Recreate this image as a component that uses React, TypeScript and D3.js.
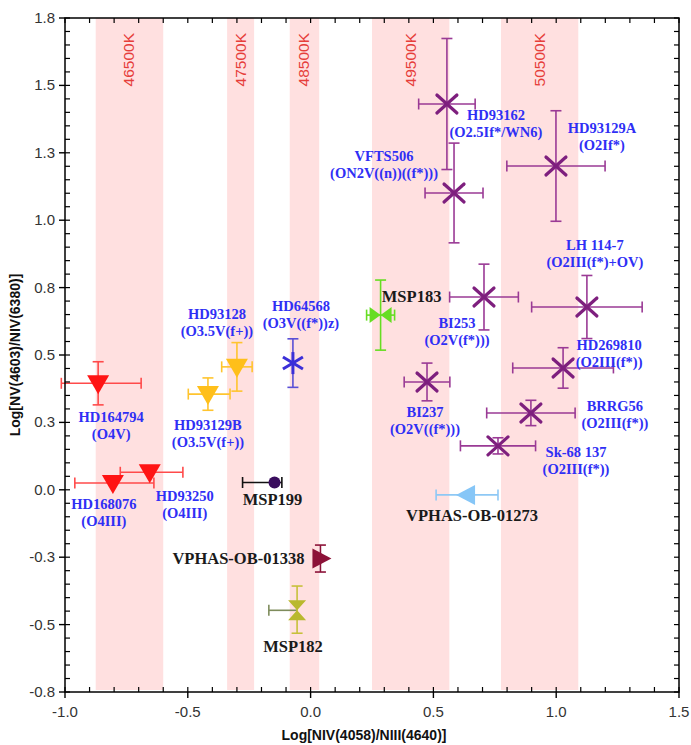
import React from "react";
import * as d3 from "d3";

// chart size and plot frame
const W = 691, H = 745;
const margin = { top: 18, right: 12, bottom: 53, left: 65 };

// axis ticks
const xTickValues = [-1.0, -0.5, 0.0, 0.5, 1.0, 1.5];
const xTickLabels = ["-1.0", "-0.5", "0.0", "0.5", "1.0", "1.5"];
const yTickValues = [-0.75, -0.5, -0.25, 0, 0.25, 0.5, 0.75, 1.0, 1.25, 1.5, 1.75];
const yTickLabels = ["-0.8", "-0.5", "-0.3", "0.0", "0.3", "0.5", "0.8", "1.0", "1.3", "1.5", "1.8"];

// temperature bands
const bandLo = [-0.875, -0.34, -0.085, 0.25, 0.775];
const bandHi = [-0.6, -0.23, 0.035, 0.565, 1.09];
const bandLabels = ["46500K", "47500K", "48500K", "49500K", "50500K"];

// stars
const stars = ["HD164794", "HD168076", "HD93250", "HD93129B", "HD93128", "HD64568", "MSP199",
  "VPHAS-OB-01338", "MSP182", "MSP183", "BI253", "LH 114-7", "HD269810", "BI237", "BRRG56",
  "Sk-68 137", "VPHAS-OB-01273", "VFTS506", "HD93162", "HD93129A"];
const spTypes = ["O4V", "O4III", "O4III", "O3.5V(f+)", "O3.5V(f+)", "O3V((f*))z", "",
  "", "", "", "O2V(f*))", "O2III(f*)+OV", "O2III(f*)", "O2V((f*))", "O2III(f*)",
  "O2III(f*)", "", "ON2V((n))((f*))", "O2.5If*/WN6", "O2If*"];
const xVal = [-0.865, -0.805, -0.655, -0.418, -0.30, -0.072, -0.147, 0.04, -0.055, 0.285, 0.706, 1.125,
  1.028, 0.474, 0.897, 0.763, 0.637, 0.584, 0.555, 0.999];
const yVal = [0.395, 0.025, 0.065, 0.355, 0.456, 0.47, 0.027, -0.255, -0.447, 0.648, 0.715, 0.678,
  0.452, 0.40, 0.285, 0.163, -0.019, 1.101, 1.431, 1.201];
const xErrLo = [0.15, 0.155, 0.12, 0.08, 0.062, 0, 0.13, 0, 0.115, 0.057, 0.14, 0.225,
  0.205, 0.093, 0.18, 0.153, 0.126, 0.118, 0.115, 0.2];
const xErrHi = [0.175, 0.167, 0.135, 0.09, 0.062, 0, 0.03, 0, 0, 0.057, 0.14, 0.225,
  0.205, 0.093, 0.18, 0.153, 0.126, 0.118, 0.115, 0.2];
const yErrLo = [0.08, 0, 0, 0.06, 0.09, 0.09, 0, 0.05, 0.085, 0.13, 0.122, 0.117,
  0.075, 0.07, 0.047, 0.03, 0, 0.185, 0.243, 0.205];
const yErrHi = [0.08, 0, 0, 0.06, 0.09, 0.09, 0, 0.05, 0.09, 0.13, 0.122, 0.117,
  0.075, 0.07, 0.047, 0.03, 0, 0.185, 0.243, 0.205];
const group = ["O4", "O4", "O4", "O3.5", "O3.5", "O3", "MSP199", "VPHAS1338", "MSP182", "MSP183",
  "O2", "O2", "O2", "O2", "O2", "O2", "VPHAS1273", "O2", "O2", "O2"];

// label placement (pixels from the point, centre of first line)
const labelDx = [13, -9, 35, 0, -20, 8, -2, -16, -4, 31, -27, 8, 46, -2, 84, 78, 5, -70, 49, 46];
const labelDy = [34, 21, 24, 31, -53, -57, 17, 0, 37, -18, 26, -62, -23, 30, -7, 6, 21, -37, 11, -38];

const styles: Record<string, any> = {
  O4: { marker: "triDown", fill: "#ff1414", bar: "#ff4a4a", label: "#2f2ff5", size: 14.5 },
  "O3.5": { marker: "triDown", fill: "#ffbf1a", bar: "#ffc42e", label: "#2f2ff5", size: 14.5 },
  O3: { marker: "asterisk", fill: "#3b2fd8", bar: "#5a4fd6", label: "#2f2ff5", size: 14.5 },
  MSP199: { marker: "circle", fill: "#3a0d5e", bar: "#111111", label: "#1a1a1a", size: 16.5 },
  VPHAS1338: { marker: "triRight", fill: "#8c1238", bar: "#8c1238", label: "#1a1a1a", size: 16.5 },
  MSP182: { marker: "hourglass", fill: "#b9b82e", bar: "#c7c03a", barX: "#7e8c5c", label: "#1a1a1a", size: 16.5 },
  MSP183: { marker: "bowtie", fill: "#66dd22", bar: "#66dd22", label: "#1a1a1a", size: 16.5 },
  O2: { marker: "x", fill: "#7e1f7e", bar: "#9a3a95", label: "#2f2ff5", size: 14.5 },
  VPHAS1273: { marker: "triLeft", fill: "#86c6f7", bar: "#8ec8f5", label: "#1a1a1a", size: 16.5 },
};

function markerPath(kind: string): string {
  const p = d3.path();
  if (kind === "triDown") { p.moveTo(-11, -8); p.lineTo(11, -8); p.lineTo(0, 11); p.closePath(); }
  else if (kind === "triRight") { p.moveTo(-8, -10); p.lineTo(11, 0); p.lineTo(-8, 10); p.closePath(); }
  else if (kind === "triLeft") { p.moveTo(8, -10); p.lineTo(-11, 0); p.lineTo(8, 10); p.closePath(); }
  else if (kind === "hourglass") { p.moveTo(-9, -10); p.lineTo(9, -10); p.lineTo(-9, 10); p.lineTo(9, 10); p.closePath(); }
  else if (kind === "bowtie") { p.moveTo(-11, -8); p.lineTo(11, 8); p.lineTo(11, -8); p.lineTo(-11, 8); p.closePath(); }
  return p.toString();
}

function Marker({ kind, fill }: { kind: string; fill: string }) {
  if (kind === "circle") return <circle r={6} fill={fill} />;
  if (kind === "x") {
    return (
      <g stroke={fill} strokeWidth={3.2} strokeLinecap="round">
        <line x1={-10} y1={-9} x2={10} y2={9} />
        <line x1={-10} y1={9} x2={10} y2={-9} />
      </g>
    );
  }
  if (kind === "asterisk") {
    return (
      <g stroke={fill} strokeWidth={3}>
        <line x1={0} y1={-11} x2={0} y2={11} />
        <line x1={-10} y1={-6} x2={10} y2={6} />
        <line x1={-10} y1={6} x2={10} y2={-6} />
      </g>
    );
  }
  return <path d={markerPath(kind)} fill={fill} />;
}

export default function App() {
  const x = d3.scaleLinear().domain([-1.0, 1.5]).range([margin.left, W - margin.right]);
  const y = d3.scaleLinear().domain([-0.75, 1.75]).range([H - margin.bottom, margin.top]);
  const [x0, x1] = x.range();
  const [y0, y1] = y.range();
  const xMinor = d3.range(-1.0, 1.5001, 0.1);
  const yMinor = d3.range(-0.75, 1.7501, 0.05);
  const cap = 5.5;

  return (
    <svg width={W} height={H} style={{ position: "absolute", left: 0, top: 0, background: "#fff" }}>
      {/* bands */}
      {bandLo.map((lo, i) => (
        <rect key={"b" + i} x={x(lo)} y={y1} width={x(bandHi[i]) - x(lo)} height={y0 - y1 - 2} fill="#ffe0e0" />
      ))}
      {bandLabels.map((t, i) => {
        const cx = (x(bandLo[i]) + x(bandHi[i])) / 2 + 5;
        return (
          <text key={"bl" + i} transform={`translate(${cx},33) rotate(-90)`} textAnchor="end"
            fontFamily="Liberation Sans, Arial, sans-serif" fontSize={15.5} fill="#e63e3a">{t}</text>
        );
      })}

      {/* error bars */}
      {stars.map((s, i) => {
        const st = styles[group[i]];
        const px = x(xVal[i]), py = y(yVal[i]);
        const hasX = xErrLo[i] + xErrHi[i] > 0;
        const hasY = yErrLo[i] + yErrHi[i] > 0;
        const xl = x(xVal[i] - xErrLo[i]), xr = x(xVal[i] + xErrHi[i]);
        const yt = y(yVal[i] + yErrHi[i]), yb = y(yVal[i] - yErrLo[i]);
        return (
          <g key={"e" + s} strokeWidth={1.6} fill="none">
            {hasX && (
              <g stroke={st.barX || st.bar}>
                <line x1={xl} x2={xr} y1={py} y2={py} />
                <line x1={xl} x2={xl} y1={py - cap} y2={py + cap} />
                {xErrHi[i] > 0 && <line x1={xr} x2={xr} y1={py - cap} y2={py + cap} />}
              </g>
            )}
            {hasY && (
              <g stroke={st.bar}>
                <line x1={px} x2={px} y1={yt} y2={yb} />
                <line x1={px - cap} x2={px + cap} y1={yt} y2={yt} />
                <line x1={px - cap} x2={px + cap} y1={yb} y2={yb} />
              </g>
            )}
          </g>
        );
      })}

      {/* markers */}
      {stars.map((s, i) => {
        const st = styles[group[i]];
        return (
          <g key={"m" + s} transform={`translate(${x(xVal[i])},${y(yVal[i])})`}>
            <Marker kind={st.marker} fill={st.fill} />
          </g>
        );
      })}

      {/* labels */}
      {stars.map((s, i) => {
        const st = styles[group[i]];
        const lx = x(xVal[i]) + labelDx[i];
        const ly = y(yVal[i]) + labelDy[i];
        const anchor = s === "VPHAS-OB-01338" ? "end" : "middle";
        return (
          <text key={"l" + s} x={lx} y={ly + 5} textAnchor={anchor} fill={st.label}
            fontFamily="Liberation Serif, Times New Roman, serif" fontWeight="bold" fontSize={st.size}>
            <tspan x={lx}>{s}</tspan>
            {spTypes[i] && <tspan x={lx} dy={17}>{"(" + spTypes[i] + ")"}</tspan>}
          </text>
        );
      })}

      {/* frame */}
      <rect x={x0} y={y1} width={x1 - x0} height={y0 - y1} fill="none" stroke="#000" strokeWidth={1.5} />

      {/* x ticks */}
      {xMinor.map((v, i) => (
        <g key={"xm" + i} stroke="#000" strokeWidth={1.2}>
          <line x1={x(v)} x2={x(v)} y1={y0} y2={y0 - 5} />
          <line x1={x(v)} x2={x(v)} y1={y1} y2={y1 + 5} />
        </g>
      ))}
      {xTickValues.map((v, i) => (
        <g key={"xt" + i}>
          <line x1={x(v)} x2={x(v)} y1={y0} y2={y0 + 6} stroke="#000" strokeWidth={1.4} />
          <text x={x(v)} y={y0 + 25} textAnchor="middle" fontFamily="Liberation Sans, Arial, sans-serif"
            fontSize={15} fill="#333">{xTickLabels[i]}</text>
        </g>
      ))}

      {/* y ticks */}
      {yMinor.map((v, i) => (
        <g key={"ym" + i} stroke="#000" strokeWidth={1.2}>
          <line x1={x0} x2={x0 + 5} y1={y(v)} y2={y(v)} />
          <line x1={x1} x2={x1 - 5} y1={y(v)} y2={y(v)} />
        </g>
      ))}
      {yTickValues.map((v, i) => (
        <g key={"yt" + i}>
          <line x1={x0 - 6} x2={x0} y1={y(v)} y2={y(v)} stroke="#000" strokeWidth={1.4} />
          <text x={x0 - 10} y={y(v) + 5} textAnchor="end" fontFamily="Liberation Sans, Arial, sans-serif"
            fontSize={15} fill="#333">{yTickLabels[i]}</text>
        </g>
      ))}

      {/* axis titles */}
      <text x={(x0 + x1) / 2 - 8} y={740} textAnchor="middle" fontFamily="Liberation Sans, Arial, sans-serif"
        fontWeight="bold" fontSize={14} fill="#111">Log[NIV(4058)/NIII(4640)]</text>
      <text transform={`translate(20,${(y0 + y1) / 2}) rotate(-90)`} textAnchor="middle"
        fontFamily="Liberation Sans, Arial, sans-serif" fontWeight="bold" fontSize={14} fill="#111">
        Log[NV(4603)/NIV(6380)]
      </text>
    </svg>
  );
}
